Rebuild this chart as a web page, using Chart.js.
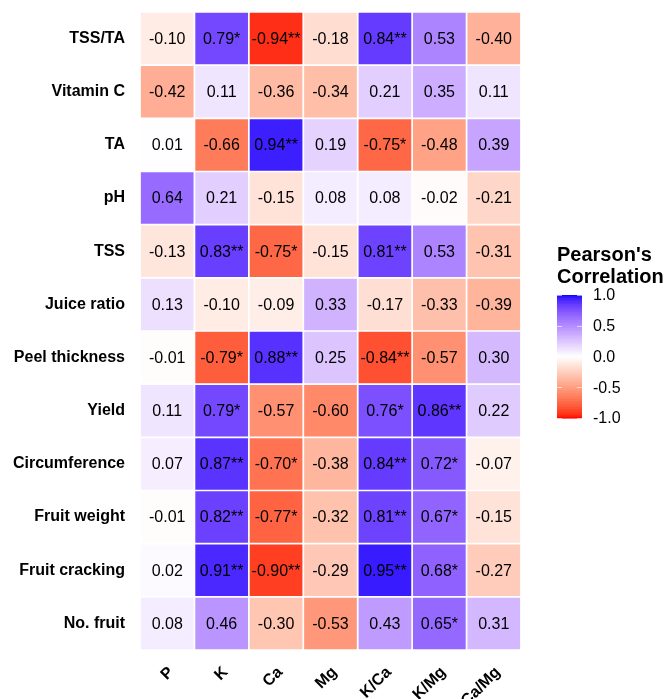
<!DOCTYPE html>
<html>
<head>
<meta charset="utf-8">
<script src="https://cdn.jsdelivr.net/npm/chart.js@4"></script>
<style>
  html, body { margin: 0; padding: 0; background: #fff; }
  #wrap { width: 667px; height: 699px; }
</style>
</head>
<body>
<div id="wrap"><canvas id="heat" width="667" height="699"></canvas></div>
<script>
'use strict';

// columns (x) and rows (y, top to bottom)
const columns = ['P', 'K', 'Ca', 'Mg', 'K/Ca', 'K/Mg', 'Ca/Mg'];
const rows = ['TSS/TA', 'Vitamin C', 'TA', 'pH', 'TSS', 'Juice ratio', 'Peel thickness',
  'Yield', 'Circumference', 'Fruit weight', 'Fruit cracking', 'No. fruit'];

// Pearson r, one array per row
const corr = [
  [-0.10, 0.79, -0.94, -0.18, 0.84, 0.53, -0.40],
  [-0.42, 0.11, -0.36, -0.34, 0.21, 0.35, 0.11],
  [0.01, -0.66, 0.94, 0.19, -0.75, -0.48, 0.39],
  [0.64, 0.21, -0.15, 0.08, 0.08, -0.02, -0.21],
  [-0.13, 0.83, -0.75, -0.15, 0.81, 0.53, -0.31],
  [0.13, -0.10, -0.09, 0.33, -0.17, -0.33, -0.39],
  [-0.01, -0.79, 0.88, 0.25, -0.84, -0.57, 0.30],
  [0.11, 0.79, -0.57, -0.60, 0.76, 0.86, 0.22],
  [0.07, 0.87, -0.70, -0.38, 0.84, 0.72, -0.07],
  [-0.01, 0.82, -0.77, -0.32, 0.81, 0.67, -0.15],
  [0.02, 0.91, -0.90, -0.29, 0.95, 0.68, -0.27],
  [0.08, 0.46, -0.30, -0.53, 0.43, 0.65, 0.31],
];

// significance marks
const stars = [
  ['', '*', '**', '', '**', '', ''],
  ['', '', '', '', '', '', ''],
  ['', '', '**', '', '*', '', ''],
  ['', '', '', '', '', '', ''],
  ['', '**', '*', '', '**', '', ''],
  ['', '', '', '', '', '', ''],
  ['', '*', '**', '', '**', '', ''],
  ['', '*', '', '', '*', '**', ''],
  ['', '**', '*', '', '**', '*', ''],
  ['', '**', '*', '', '**', '*', ''],
  ['', '**', '**', '', '**', '*', ''],
  ['', '', '', '', '', '*', ''],
];

const legendTicks = [1, 0.5, 0, -0.5, -1];

const FONT = 'Liberation Sans, Arial, sans-serif';

// --- red / white / blue diverging palette, interpolated in Lab like ggplot
function lin(c) { c /= 255; return c <= 0.04045 ? c / 12.92 : Math.pow((c + 0.055) / 1.055, 2.4); }
function unlin(c) { c = c <= 0.0031308 ? 12.92 * c : 1.055 * Math.pow(c, 1 / 2.4) - 0.055; return Math.round(Math.min(1, Math.max(0, c)) * 255); }
const WN = [0.95047, 1, 1.08883];
function toLab(rgb) {
  const [r, g, b] = rgb.map(lin);
  const xyz = [
    (0.4124564 * r + 0.3575761 * g + 0.1804375 * b) / WN[0],
    (0.2126729 * r + 0.7151522 * g + 0.0721750 * b) / WN[1],
    (0.0193339 * r + 0.1191920 * g + 0.9503041 * b) / WN[2],
  ];
  const f = (t) => (t > 0.008856 ? Math.cbrt(t) : 7.787 * t + 16 / 116);
  const [fx, fy, fz] = xyz.map(f);
  return [116 * fy - 16, 500 * (fx - fy), 200 * (fy - fz)];
}
function fromLab([L, a, b]) {
  const fy = (L + 16) / 116, fx = fy + a / 500, fz = fy - b / 200;
  const inv = (t) => (t ** 3 > 0.008856 ? t ** 3 : (t - 16 / 116) / 7.787);
  const X = inv(fx) * WN[0], Y = inv(fy) * WN[1], Z = inv(fz) * WN[2];
  const r = 3.2404542 * X - 1.5371385 * Y - 0.4985314 * Z;
  const g = -0.9692660 * X + 1.8760108 * Y + 0.0415560 * Z;
  const bb = 0.0556434 * X - 0.2040259 * Y + 1.0572252 * Z;
  return `rgb(${unlin(r)},${unlin(g)},${unlin(bb)})`;
}
const LAB_LOW = toLab([255, 0, 0]);
const LAB_MID = toLab([255, 255, 255]);
const LAB_HIGH = toLab([0, 0, 255]);
function fillColor(v) {
  const t = Math.min(1, Math.abs(v));
  const end = v < 0 ? LAB_LOW : LAB_HIGH;
  return fromLab(LAB_MID.map((m, i) => m + (end[i] - m) * t));
}

// stacked bars of height 1 build the tiles; bottom row goes first
const datasets = rows.map((name, i) => {
  const r = rows.length - 1 - i;
  return {
    label: rows[r],
    data: columns.map(() => 1),
    backgroundColor: corr[r].map(fillColor),
    borderColor: '#ffffff',
    borderWidth: 1.2,
    borderSkipped: false,
    barPercentage: 1,
    categoryPercentage: 1,
    yAxisID: 'y',
  };
});

const cellText = {
  id: 'cellText',
  afterDatasetsDraw(chart) {
    const c = chart.ctx;
    c.save();
    c.font = `16px ${FONT}`;
    c.fillStyle = '#000';
    c.textAlign = 'center';
    c.textBaseline = 'middle';
    chart.data.datasets.forEach((ds, di) => {
      const r = rows.length - 1 - di;
      chart.getDatasetMeta(di).data.forEach((el, ci) => {
        const v = corr[r][ci];
        c.fillText(v.toFixed(2) + stars[r][ci], el.x, (el.y + el.base) / 2 + 1);
      });
    });
    c.restore();
  },
};

const colorbar = {
  id: 'colorbar',
  afterDraw(chart) {
    const c = chart.ctx;
    const x = 557, w = 25, top = 295, bot = 418;
    const yOf = (v) => top + (1 - v) / 2 * (bot - top);
    c.save();
    c.fillStyle = '#000';
    c.font = `bold 20px ${FONT}`;
    c.textAlign = 'left';
    c.textBaseline = 'middle';
    c.fillText("Pearson's", x, 255);
    c.fillText('Correlation', x, 277);
    const n = 200;
    for (let i = 0; i < n; i++) {
      const v = 1 - 2 * (i + 0.5) / n;
      c.fillStyle = fillColor(v);
      c.fillRect(x, top + i * (bot - top) / n, w, (bot - top) / n + 0.6);
    }
    c.strokeStyle = 'rgba(255,255,255,0.6)';
    c.lineWidth = 1;
    c.font = `16px ${FONT}`;
    c.fillStyle = '#000';
    legendTicks.forEach((v) => {
      const y = Math.round(yOf(v)) + 0.5;
      c.beginPath();
      c.moveTo(x, y); c.lineTo(x + 5, y);
      c.moveTo(x + w - 5, y); c.lineTo(x + w, y);
      c.stroke();
      c.fillText(v.toFixed(1), 593, yOf(v) + 1);
    });
    c.restore();
  },
};

const chart = new Chart(document.getElementById('heat'), {
  type: 'bar',
  data: { labels: columns, datasets },
  options: {
    responsive: false,
    animation: false,
    events: [],
    layout: { padding: { top: 12, right: 146, left: 0, bottom: 0 } },
    plugins: { legend: { display: false }, tooltip: { enabled: false } },
    scales: {
      x: {
        type: 'category',
        stacked: true,
        grid: { display: false, drawTicks: false },
        border: { display: false },
        ticks: {
          color: '#000',
          font: { family: FONT, size: 16, weight: 'bold' },
          minRotation: 45,
          maxRotation: 45,
          padding: 13,
          labelOffset: 4,
          autoSkip: false,
        },
        afterFit(scale) {
          scale.height = 49;
          scale.paddingLeft = 0;
          scale.paddingRight = 0;
        },
      },
      y: {
        type: 'linear',
        stacked: true,
        min: 0,
        max: rows.length,
        grid: { display: false, drawTicks: false },
        border: { display: false },
        afterBuildTicks(scale) {
          scale.ticks = rows.map((_, i) => ({ value: i + 0.5 }));
        },
        ticks: {
          color: '#000',
          font: { family: FONT, size: 16, weight: 'bold' },
          padding: 15,
          autoSkip: false,
          callback: (v) => rows[rows.length - 1 - Math.floor(v)],
        },
        afterFit(scale) {
          scale.width = 140;
          scale.paddingTop = 0;
          scale.paddingBottom = 0;
        },
      },
    },
  },
  plugins: [cellText, colorbar],
});
</script>
</body>
</html>
